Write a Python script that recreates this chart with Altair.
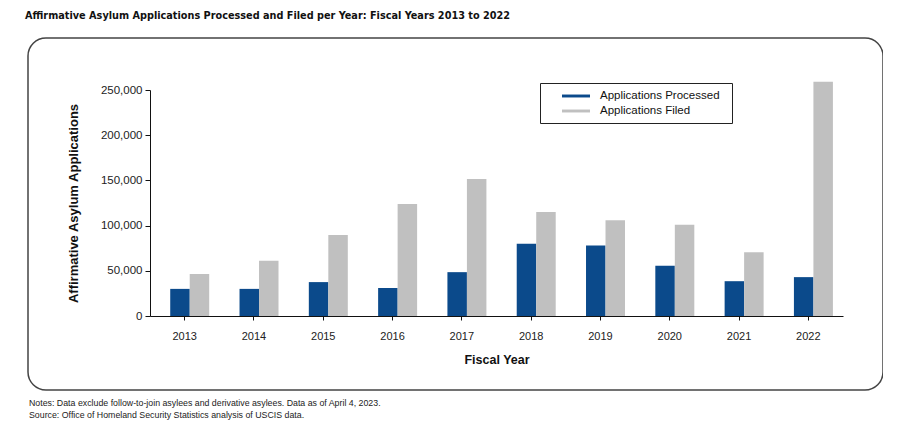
import altair as alt
import pandas as pd

years = ["2013", "2014", "2015", "2016", "2017", "2018", "2019", "2020", "2021", "2022"]
processed = [30000, 30000, 37500, 31000, 48500, 80000, 78000, 55500, 38500, 43000]
filed = [46500, 61000, 89500, 124000, 151500, 115000, 106000, 101000, 70500, 259000]
series = ["Applications Processed", "Applications Filed"]
colors = ["#0B4A8B", "#C0C0C0"]
y_ticks = [0, 50000, 100000, 150000, 200000, 250000]

title_text = "Affirmative Asylum Applications Processed and Filed per Year: Fiscal Years 2013 to 2022"
note1 = "Notes: Data exclude follow-to-join asylees and derivative asylees. Data as of April 4, 2023."
note2 = "Source: Office of Homeland Security Statistics analysis of USCIS data."

rows = []
for i, yr in enumerate(years):
    rows.append({"year": yr, "series": series[0], "value": processed[i]})
    rows.append({"year": yr, "series": series[1], "value": filed[i]})
df = pd.DataFrame(rows)

W, H = 693, 226
FONT = "Liberation Sans"

bars = alt.Chart(df).mark_bar().encode(
    x=alt.X(
        "year:N",
        title="Fiscal Year",
        sort=years,
        scale=alt.Scale(paddingInner=0.156, paddingOuter=0.078),
        axis=alt.Axis(
            labelAngle=0, tickSize=4, labelPadding=10, titlePadding=12,
            labelFontSize=11, labelColor="#222", titleFontSize=12.5,
            titleFontWeight="bold", titleColor="#111", domainColor="#111",
            tickColor="#111", labelFont=FONT, titleFont=FONT,
        ),
    ),
    xOffset=alt.XOffset(
        "series:N", sort=series,
        scale=alt.Scale(paddingInner=0, paddingOuter=0.5, align=0.76),
    ),
    y=alt.Y(
        "value:Q",
        title="Affirmative Asylum Applications",
        scale=alt.Scale(domain=[0, 250000], nice=False, zero=True),
        axis=alt.Axis(
            values=y_ticks, format=",d", grid=False, tickSize=5, labelPadding=3,
            titlePadding=20, labelFontSize=11.5, labelColor="#222",
            titleFontSize=13, titleFontWeight="bold", titleColor="#111",
            domainColor="#111", tickColor="#111", labelFont=FONT, titleFont=FONT,
        ),
    ),
    color=alt.Color(
        "series:N",
        sort=series,
        scale=alt.Scale(domain=series, range=colors),
        legend=alt.Legend(
            title="\u00a0", titleOrient="right", titlePadding=6, titleFontSize=11.5,
            orient="none", legendX=390, legendY=-7,
            direction="vertical", strokeColor="#222", padding=6,
            symbolType="M-2,-0.21H2V0.21H-2Z", symbolSize=196,
            symbolStrokeWidth=0, symbolOffset=23, labelOffset=17,
            labelFontSize=11.5, labelColor="#111", labelFont=FONT,
            rowPadding=2, labelLimit=300,
        ),
    ),
)

one = pd.DataFrame({"k": [0]})

frame = alt.Chart(one).mark_rect(
    fillOpacity=0, stroke="#444", strokeWidth=1.5, cornerRadius=18
).encode(
    x=alt.value(-122), x2=alt.value(733), y=alt.value(-52), y2=alt.value(300)
)

title = alt.Chart(one).mark_text(
    align="left", baseline="alphabetic", font="DejaVu Sans Condensed",
    fontWeight="bold", fontSize=10.8, color="#111"
).encode(x=alt.value(-125), y=alt.value(-71), text=alt.value(title_text))

n1 = alt.Chart(one).mark_text(
    align="left", baseline="alphabetic", font=FONT, fontSize=8.8, color="#222"
).encode(x=alt.value(-121), y=alt.value(316), text=alt.value(note1))

n2 = alt.Chart(one).mark_text(
    align="left", baseline="alphabetic", font=FONT, fontSize=8.8, color="#222"
).encode(x=alt.value(-121), y=alt.value(328), text=alt.value(note2))

chart = alt.layer(frame, bars, title, n1, n2).properties(
    width=W, height=H,
    autosize=alt.AutoSizeParams(type="none"),
    padding={"left": 142, "top": 82, "right": 40, "bottom": 118},
).configure_view(stroke=None)

chart.save("out.html", embed_options={"renderer": "svg", "actions": False})
